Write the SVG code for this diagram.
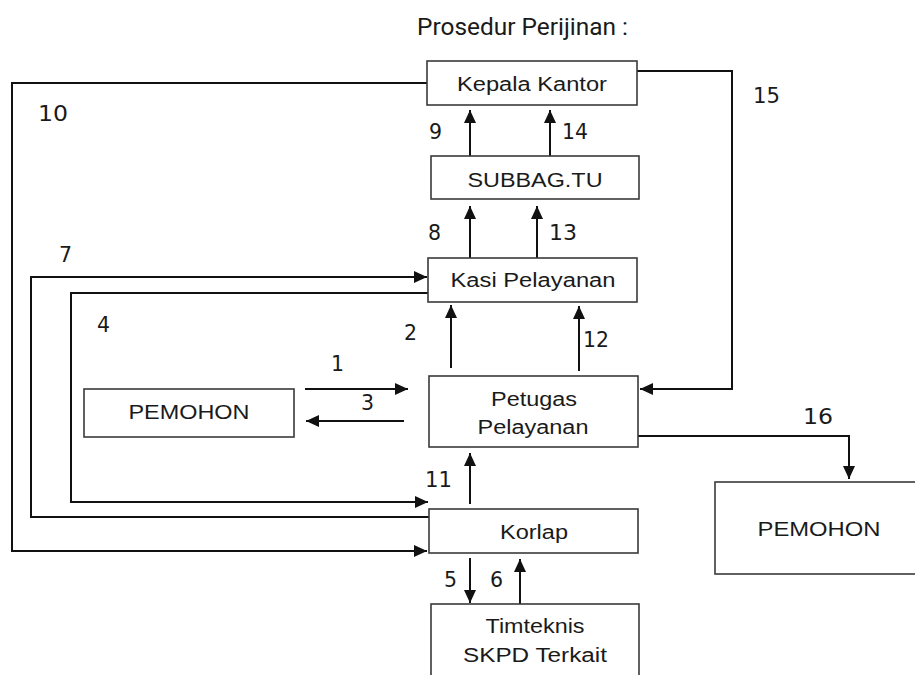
<svg xmlns="http://www.w3.org/2000/svg" width="915" height="675" viewBox="0 0 915 675">
<style>
.box{fill:#fff;stroke:#3a3a3a;stroke-width:1.6}
.bt{font-family:"Liberation Sans",Arial,sans-serif;font-size:20px;fill:#1a1a1a;text-anchor:middle}
.num{font-family:"DejaVu Sans",Verdana,sans-serif;font-size:20.5px;fill:#1a1a1a}
.ttl{font-family:Roboto,"Liberation Sans",sans-serif;font-size:23px;fill:#1a1a1a}
.c{fill:none;stroke:#111;stroke-width:2;marker-end:url(#ah)}
</style>
<defs>
<marker id="ah" markerUnits="userSpaceOnUse" markerWidth="13" markerHeight="12" refX="13" refY="6" orient="auto">
<path d="M0,0 L13,6 L0,12 z" fill="#111"/>
</marker>
</defs>
<rect width="915" height="675" fill="#fff"/>
<text class="ttl" x="417" y="35" textLength="211" lengthAdjust="spacingAndGlyphs">Prosedur Perijinan :</text>

<g id="connectors">
<polyline class="c" points="427,83 12,83 12,551 427,551"/>
<polyline class="c" points="637,71 732,71 732,389 640,389"/>
<line class="c" x1="470" y1="156" x2="470" y2="110"/>
<line class="c" x1="550" y1="156" x2="550" y2="110"/>
<line class="c" x1="470" y1="258" x2="470" y2="206"/>
<line class="c" x1="537" y1="258" x2="537" y2="206"/>
<polyline class="c" points="429,517 31,517 31,277 427,277"/>
<polyline class="c" points="428,293 71,293 71,502 428,502"/>
<line class="c" x1="305" y1="389" x2="408" y2="389"/>
<line class="c" x1="404" y1="421" x2="306" y2="421"/>
<line class="c" x1="451" y1="368" x2="451" y2="305"/>
<line class="c" x1="579" y1="371" x2="579" y2="306"/>
<polyline class="c" points="638,436 849,436 849,479"/>
<line class="c" x1="470" y1="504" x2="470" y2="453"/>
<line class="c" x1="470" y1="558" x2="470" y2="603"/>
<line class="c" x1="520" y1="604" x2="520" y2="559"/>
</g>

<g id="labels">
<text class="num" x="38" y="121" textLength="30" lengthAdjust="spacingAndGlyphs">10</text>
<text class="num" x="753" y="103" textLength="27" lengthAdjust="spacingAndGlyphs">15</text>
<text class="num" x="429" y="139">9</text>
<text class="num" x="562" y="139" textLength="26" lengthAdjust="spacingAndGlyphs">14</text>
<text class="num" x="428" y="240">8</text>
<text class="num" x="549" y="240" textLength="28" lengthAdjust="spacingAndGlyphs">13</text>
<text class="num" x="59" y="262">7</text>
<text class="num" x="97" y="332">4</text>
<text class="num" x="404" y="340">2</text>
<text class="num" x="331" y="371">1</text>
<text class="num" x="361" y="410">3</text>
<text class="num" x="583" y="347" textLength="26" lengthAdjust="spacingAndGlyphs">12</text>
<text class="num" x="803" y="424" textLength="30" lengthAdjust="spacingAndGlyphs">16</text>
<text class="num" x="425" y="487" textLength="27" lengthAdjust="spacingAndGlyphs">11</text>
<text class="num" x="444" y="587">5</text>
<text class="num" x="490" y="587">6</text>
</g>

<g id="kepala-kantor">
<rect class="box" x="427" y="61" width="210" height="44"/>
<text class="bt" x="532" y="91" textLength="150" lengthAdjust="spacingAndGlyphs">Kepala Kantor</text>
</g>
<g id="subbag-tu">
<rect class="box" x="431" y="156" width="208" height="43"/>
<text class="bt" x="535" y="187" textLength="135" lengthAdjust="spacingAndGlyphs">SUBBAG.TU</text>
</g>
<g id="kasi-pelayanan">
<rect class="box" x="428" y="258" width="209" height="44"/>
<text class="bt" x="533" y="287" textLength="165" lengthAdjust="spacingAndGlyphs">Kasi Pelayanan</text>
</g>
<g id="pemohon-left">
<rect class="box" x="84" y="389" width="210" height="48"/>
<text class="bt" x="189" y="419" textLength="121" lengthAdjust="spacingAndGlyphs">PEMOHON</text>
</g>
<g id="petugas-pelayanan">
<rect class="box" x="429" y="376" width="209" height="71"/>
<text class="bt" x="534" y="406" textLength="86" lengthAdjust="spacingAndGlyphs">Petugas</text>
<text class="bt" x="533" y="434" textLength="111" lengthAdjust="spacingAndGlyphs">Pelayanan</text>
</g>
<g id="korlap">
<rect class="box" x="429" y="509" width="209" height="44"/>
<text class="bt" x="534" y="539" textLength="68" lengthAdjust="spacingAndGlyphs">Korlap</text>
</g>
<g id="pemohon-right">
<rect class="box" x="715" y="482" width="215" height="92"/>
<text class="bt" x="819" y="536" textLength="123" lengthAdjust="spacingAndGlyphs">PEMOHON</text>
</g>
<g id="timteknis">
<rect class="box" x="431" y="604" width="208" height="90"/>
<text class="bt" x="535" y="633" textLength="99" lengthAdjust="spacingAndGlyphs">Timteknis</text>
<text class="bt" x="535" y="662" textLength="144" lengthAdjust="spacingAndGlyphs">SKPD Terkait</text>
</g>
</svg>
